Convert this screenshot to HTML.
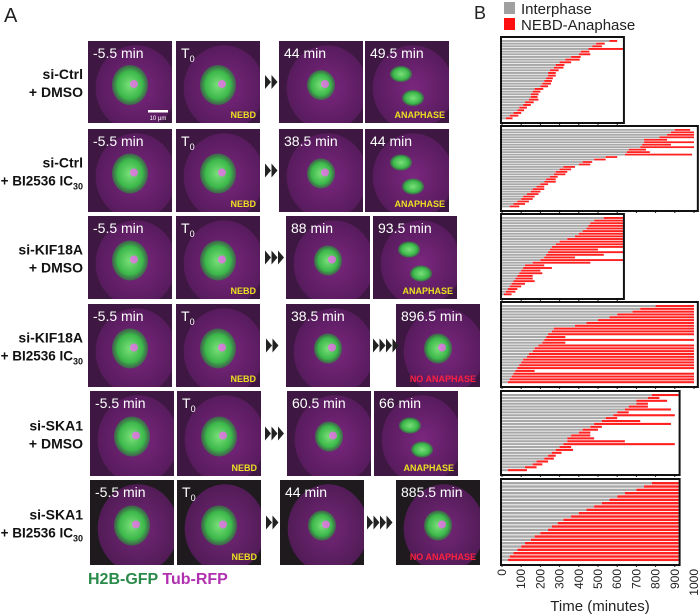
<!DOCTYPE html>
<html><head><meta charset="utf-8"><style>
body{margin:0;background:#fff;}
svg{display:block;font-family:"Liberation Sans",sans-serif;}
</style></head><body>
<svg id="fig" width="700" height="615" viewBox="0 0 700 615" xmlns="http://www.w3.org/2000/svg">
<defs>
<radialGradient id="cellg" cx="50%" cy="50%" r="50%"><stop offset="0%" stop-color="#8a2a8e"/><stop offset="100%" stop-color="#5e1c64"/></radialGradient>
<radialGradient id="dnag" cx="50%" cy="50%" r="50%"><stop offset="0%" stop-color="#7be07a"/><stop offset="70%" stop-color="#3cb84a"/><stop offset="100%" stop-color="#2a8a3a" stop-opacity="0.6"/></radialGradient>
</defs>
<text x="4" y="22" font-size="20" fill="#222">A</text>
<text x="474" y="19" font-size="18" fill="#222">B</text>
<g id="left"></g>
<g id="chart"></g>
<text x="88" y="584" font-size="16" font-weight="bold" fill="#2a8a4a">H2B-GFP <tspan fill="#b030b0">Tub-RFP</tspan></text>
</svg>
<script>
// ===== Chart data (minutes) =====
const p1Inter=[560,490,470,450,410,400,360,330,300,280,270,250,240,240,230,220,210,200,170,160,150,150,140,120,110,90,80,60,40,20];
const p1Dur=[40,45,50,180,45,60,50,75,60,45,50,45,40,40,35,40,45,40,45,40,40,35,50,45,40,40,35,40,45,35];
const p2Inter=[900,880,860,820,740,740,730,720,660,650,640,540,480,420,400,320,300,280,270,250,230,220,200,180,160,150,130,110,100,80,60,40];
const p2Dur=[80,120,140,180,120,260,150,280,90,120,350,60,60,50,60,60,60,60,60,40,50,60,40,40,60,50,60,60,60,60,60,50];
const p3Inter=[530,480,460,450,440,420,400,380,340,300,280,260,250,240,230,220,200,160,120,110,100,90,80,70,60,50,40,30,20,10];
const p3Dur=[110,160,180,190,200,220,240,260,300,340,360,380,250,400,300,160,440,300,100,150,100,120,80,90,110,70,60,50,50,40];
const p4Inter=[800,720,680,600,560,500,440,380,270,260,240,230,220,210,190,170,160,140,130,110,100,90,80,70,60,50,40,30];
const p4Dur=[200,280,320,400,440,500,560,620,730,740,760,100,780,120,810,830,840,860,870,890,900,910,920,100,940,950,960,970];
const p5Inter=[780,760,700,700,660,640,600,580,540,520,480,460,420,400,360,340,340,320,300,280,260,240,220,180,160,120,30];
const p5Dur=[140,60,160,60,100,240,60,320,60,200,400,60,80,60,100,140,300,580,60,90,50,40,50,60,50,60,100];
const p6Inter=[780,740,700,640,600,560,520,480,440,400,360,320,290,260,240,200,170,150,120,100,80,60,40,30];
const p6Dur=[140,180,220,280,320,360,400,440,480,520,560,600,630,660,680,720,750,770,800,820,840,860,880,890];
const tickVals=[0,100,200,300,400,500,600,700,800,900,1000];

const NS="http://www.w3.org/2000/svg";
function mk(tag,attrs,parent){const e=document.createElementNS(NS,tag);for(const k in attrs)e.setAttribute(k,attrs[k]);parent.appendChild(e);return e;}
const X0=502, SC=0.192;
function xs(m){return X0+m*SC;}
const chart=document.getElementById('chart');

// legend
const lg1=mk('rect',{x:504,y:2,width:11,height:12,fill:'#a0a0a0'},chart);


const lt1=mk('text',{x:521,y:14,'font-size':15,fill:'#222'},chart);lt1.textContent='Interphase';


const lg2=mk('rect',{x:504,y:18,width:11,height:12,fill:'#ff1010'},chart);


const lt2=mk('text',{x:521,y:30,'font-size':15,fill:'#222'},chart);lt2.textContent='NEBD-Anaphase';



const panels=[
 {inter:p1Inter,dur:p1Dur,y0:37,y1:123,max:635},
 {inter:p2Inter,dur:p2Dur,y0:126,y1:211,max:1020},
 {inter:p3Inter,dur:p3Dur,y0:214,y1:299,max:635},
 {inter:p4Inter,dur:p4Dur,y0:302,y1:387,max:1020},
 {inter:p5Inter,dur:p5Dur,y0:391,y1:475,max:925},
 {inter:p6Inter,dur:p6Dur,y0:479,y1:565,max:925}
];
panels.forEach((p,pi)=>{
  const g=mk('g',{},chart);
  
  
  const n=p.inter.length, top=p.y0+3, h=(p.y1-p.y0-6)/n, right=xs(p.max);
  p.inter.forEach((v,i)=>{
    const y=top+i*h;
    const end=Math.min(v+p.dur[i],p.max);
    const gb=mk('rect',{x:X0,y:y,width:Math.max(0,xs(v)-X0),height:h*0.72,fill:'#a8a8a8'},g);
    
    
    const rb=mk('rect',{x:xs(v),y:y,width:Math.max(0,xs(end)-xs(v)),height:h*0.72,fill:'#ff2020'},g);
    
    
  });
  const fr=mk('rect',{x:X0-1,y:p.y0,width:right-X0+1,height:p.y1-p.y0,fill:'none',stroke:'#111','stroke-width':2},g);
  
  
  tickVals.forEach(t=>{ if(t<=p.max){ const tk=mk('line',{x1:xs(t),x2:xs(t),y1:p.y1,y2:p.y1+2,stroke:'#111','stroke-width':1},g);
    
    }});
});
// x-axis labels
tickVals.forEach(t=>{
  const tx=mk('text',{x:0,y:0,'font-size':12,fill:'#222','text-anchor':'end',transform:`translate(${xs(t)+4},569) rotate(-90)`},chart);
  tx.textContent=t;
  
  
});
const xt=mk('text',{x:600,y:611,'font-size':15,fill:'#222','text-anchor':'middle'},chart);
xt.textContent='Time (minutes)';



// ===== Left microscopy panel =====
const left=document.getElementById('left');
const defs=document.querySelector('defs');
const rows=[
 {y:41,h:82,l1:'si-Ctrl',l2:'+ DMSO',sub:false,tiles:[88,176,279,365],times:['-5.5 min','T0','44 min','49.5 min'],last:'ANAPHASE',arr1:[265,2],arr2:null,dark:false},
 {y:129,h:83,l1:'si-Ctrl',l2:'+ BI2536 IC',sub:true,tiles:[88,176,279,365],times:['-5.5 min','T0','38.5 min','44 min'],last:'ANAPHASE',arr1:[265,2],arr2:null,dark:false},
 {y:216,h:83,l1:'si-KIF18A',l2:'+ DMSO',sub:false,tiles:[88,176,286,373],times:['-5.5 min','T0','88 min','93.5 min'],last:'ANAPHASE',arr1:[265,3],arr2:null,dark:false},
 {y:304,h:83,l1:'si-KIF18A',l2:'+ BI2536 IC',sub:true,tiles:[88,176,286,396],times:['-5.5 min','T0','38.5 min','896.5 min'],last:'NO ANAPHASE',arr1:[266,2],arr2:[373,4],dark:false},
 {y:391,h:85,l1:'si-SKA1',l2:'+ DMSO',sub:false,tiles:[90,177,287,374],times:['-5.5 min','T0','60.5 min','66 min'],last:'ANAPHASE',arr1:[265,3],arr2:null,dark:false},
 {y:480,h:85,l1:'si-SKA1',l2:'+ BI2536 IC',sub:true,tiles:[90,177,280,396],times:['-5.5 min','T0','44 min','885.5 min'],last:'NO ANAPHASE',arr1:[266,2],arr2:[367,4],dark:true}
];
let clipId=0;
rows.forEach((r,ri)=>{
  const g=mk('g',{},left);
  
  
  const cy=r.y+r.h/2;
  const a=mk('text',{x:83,y:cy-3,'font-size':14,'font-weight':'bold','text-anchor':'end',fill:'#111'},g);a.textContent=r.l1;
  
  
  const b=mk('text',{x:83,y:cy+15,'font-size':r.sub?13.5:14,'font-weight':'bold','text-anchor':'end',fill:'#111'},g);
  b.textContent=r.l2;
  if(r.sub){const s=mk('tspan',{'font-size':9,dy:4},b);s.textContent='30';}
  
  
  r.tiles.forEach((tx,ti)=>{
    const w=84;
    const cid='clip'+(clipId++);
    const cp=mk('clipPath',{id:cid},defs);
    mk('rect',{x:tx,y:r.y,width:w,height:r.h},cp);
    const t=mk('g',{'clip-path':'url(#'+cid+')'},g);
    
    
    mk('rect',{x:tx,y:r.y,width:w,height:r.h,fill:r.dark?'#1e1a1e':'#3e1842'},t);
    mk('ellipse',{cx:tx+w/2+6,cy:r.y+r.h/2+6,rx:w*0.48,ry:r.h*0.52,fill:'url(#cellg)',opacity:0.8},t);
    if(ti===3 && r.last==='ANAPHASE'){
      mk('ellipse',{cx:tx+w/2-6,cy:r.y+r.h/2-8,rx:11,ry:8,fill:'url(#dnag)'},t);
      mk('ellipse',{cx:tx+w/2+6,cy:r.y+r.h/2+16,rx:11,ry:8,fill:'url(#dnag)'},t);
    } else {
      mk('ellipse',{cx:tx+w/2,cy:r.y+r.h/2+3,rx:ti<2?18:14,ry:ti<2?20:15,fill:'url(#dnag)'},t);
      mk('circle',{cx:tx+w/2+4,cy:r.y+r.h/2+2,r:4,fill:'#ff60ff',opacity:0.7},t);
    }
    const tt=mk('text',{x:tx+5,y:r.y+17,'font-size':14,fill:'#fff'},t);
    if(r.times[ti]==='T0'){tt.textContent='T';const s=mk('tspan',{'font-size':9,dy:4},tt);s.textContent='0';}
    else tt.textContent=r.times[ti];
    if(ti===1){const n=mk('text',{x:tx+w-4,y:r.y+r.h-5,'font-size':9,'font-weight':'bold','text-anchor':'end',fill:'#e8e020'},t);n.textContent='NEBD';}
    if(ti===3){const n=mk('text',{x:tx+w-4,y:r.y+r.h-5,'font-size':9,'font-weight':'bold','text-anchor':'end',fill:r.last==='ANAPHASE'?'#e8e020':'#ff2040'},t);n.textContent=r.last;}
  });
  [r.arr1,r.arr2].forEach(ar=>{ if(!ar)return;
    for(let k=0;k<ar[1];k++){const x=ar[0]+k*6.5;
      const p=mk('polygon',{points:`${x},${cy-7} ${x+6},${cy} ${x},${cy+7}`,fill:'#222'},g);
      
      }
  });
});
// scale bar
const sb=mk('rect',{x:148,y:110,width:20,height:2.5,fill:'#fff'},left);


const sbt=mk('text',{x:158,y:120,'font-size':6,fill:'#fff','text-anchor':'middle'},left);sbt.textContent='10 μm';


</script>
</body></html>
